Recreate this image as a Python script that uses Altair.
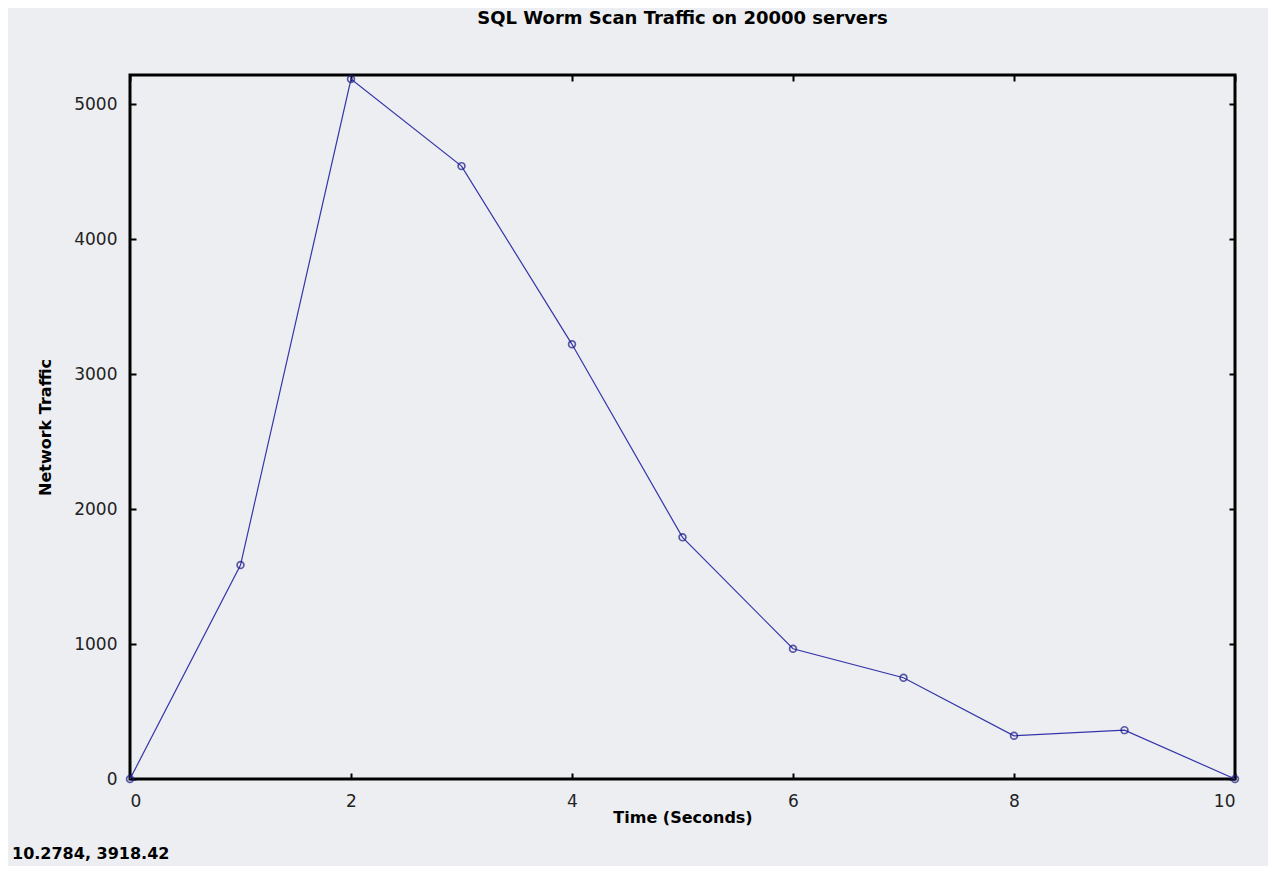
import altair as alt
import pandas as pd

time_s = [0, 1, 2, 3, 4, 5, 6, 7, 8, 9, 10]
traffic = [0, 1585, 5185, 4540, 3220, 1790, 965, 750, 320, 362, 0]
x_ticks = [0, 2, 4, 6, 8, 10]
y_ticks = [0, 1000, 2000, 3000, 4000, 5000]
title_text = "SQL Worm Scan Traffic on 20000 servers"
coord_text = "10.2784,  3918.42"

df = pd.DataFrame({"t": time_s, "v": traffic})

xs = alt.Scale(domain=[0, 10], nice=False, zero=False)
ys = alt.Scale(domain=[0, 5215], nice=False)

FONT = "DejaVu Sans"

x_bottom = alt.X("t:Q", scale=xs, axis=alt.Axis(
    orient="bottom", values=x_ticks, title="Time (Seconds)", grid=False,
    domain=False, offset=-6, tickSize=6, tickWidth=2, tickColor="black",
    labelPadding=14, labelFontSize=17, labelFont=FONT, labelColor="#222",
    format="d",
    titleFont=FONT, titleFontSize=16, titleFontWeight="bold", titleColor="black",
    titlePadding=0))
y_left = alt.Y("v:Q", scale=ys, axis=alt.Axis(
    orient="left", values=y_ticks, title="Network Traffic", grid=False,
    domain=False, offset=-6, tickSize=6, tickWidth=2, tickColor="black",
    labelPadding=13, labelFontSize=17, labelFont=FONT, labelColor="#222",
    format="d",
    titleFont=FONT, titleFontSize=16, titleFontWeight="bold", titleColor="black",
    titlePadding=20))

x_top = alt.X("t:Q", scale=xs, axis=alt.Axis(
    orient="top", values=x_ticks, title=None, labels=False, grid=False,
    domain=False, offset=-6, tickSize=6, tickWidth=2, tickColor="black"))
y_right = alt.Y("v:Q", scale=ys, axis=alt.Axis(
    orient="right", values=y_ticks, title=None, labels=False, grid=False,
    domain=False, offset=-6, tickSize=6, tickWidth=2, tickColor="black"))

base = alt.Chart(df)
line = base.mark_line(color="#3535a8", strokeWidth=1.2).encode(x=x_bottom, y=y_left)
frame = base.mark_point(opacity=0).encode(x=x_top, y=y_right)
pts = base.mark_point(shape="circle", filled=False, size=46, color="#1a1a88",
                      strokeWidth=1.7, clip=False).encode(
    x=alt.X("t:Q", scale=xs, axis=None), y=alt.Y("v:Q", scale=ys, axis=None))

coord = alt.Chart(pd.DataFrame({"c": [coord_text]})).mark_text(
    align="left", baseline="alphabetic", font=FONT, fontSize=16, fontWeight="bold",
    color="black").encode(text="c:N", x=alt.value(-118), y=alt.value(784))

chart = alt.layer(line, frame, pts, coord).resolve_axis(
    x="independent", y="independent"
).properties(
    width=1105, height=704,
    title=alt.TitleParams(title_text, font=FONT, fontSize=18, fontWeight="bold",
                          color="black", offset=44, anchor="middle"),
    autosize=alt.AutoSizeParams(type="none"),
    padding={"left": 122, "top": 67, "right": 33, "bottom": 87},
    background="#ECEEF2",
).configure_view(stroke="black", strokeWidth=3)

chart.save("out.html", embed_options={"renderer": "svg", "actions": False})
